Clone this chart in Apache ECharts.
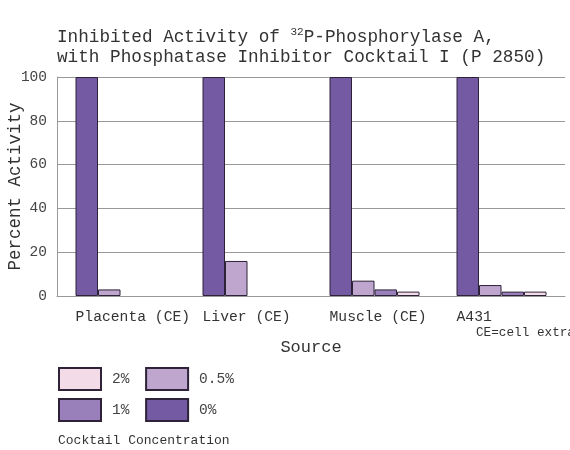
<!DOCTYPE html>
<html>
<head>
<meta charset="utf-8">
<script src="https://cdn.jsdelivr.net/npm/echarts@6/dist/echarts.min.js"></script>
<style>
  html, body { margin: 0; padding: 0; background: #fff; }
  #chart { width: 570px; height: 450px; }
</style>
</head>
<body>
<div id="chart"></div>
<script>
// Données
const sources = ['Placenta (CE)', 'Liver (CE)', 'Muscle (CE)', 'A431'];
const conc0 = [100, 100, 100, 100];
const conc05 = [3, 16, 7, 5];
const conc1 = [0, 0, 3, 2];
const conc2 = [0, 0, 2, 2];
const yTicks = [0, 20, 40, 60, 80, 100];

const mono = '"Liberation Mono", "DejaVu Sans Mono", monospace';
const edge = '#2e2238';

const chart = echarts.init(document.getElementById('chart'), null, { renderer: 'canvas' });

function barSerie(name, data, color) {
    return {
        name: name,
        type: 'bar',
        // les barres nulles ne sont pas dessinées
        data: data.map(v => (v === 0 ? '-' : v)),
        barWidth: 22.5,
        barGap: '0%',
        itemStyle: { color: color, borderColor: edge, borderWidth: 1 },
        emphasis: { disabled: true }
    };
}

const option = {
    animation: false,
    backgroundColor: '#fff',
    textStyle: { fontFamily: mono, color: '#333' },
    title: {
        left: 57,
        top: 27,
        padding: 0,
        text: '{n|Inhibited Activity of }{sup|32}{n|P-Phosphorylase A,}\n{n|with Phosphatase Inhibitor Cocktail I (P 2850)}',
        textStyle: {
            fontWeight: 'normal',
            rich: {
                n: { fontFamily: mono, fontSize: 17.7, fontWeight: 'normal', color: '#333', lineHeight: 20 },
                sup: { fontFamily: mono, fontSize: 11, fontWeight: 'normal', color: '#333', verticalAlign: 'top', lineHeight: 20, padding: [0, 0, 8, 0] }
            }
        }
    },
    grid: { left: 57, right: 5, top: 77, bottom: 154, outerBoundsMode: 'none' },
    legend: {
        data: ['2%', '0.5%', '1%', '0%'],
        icon: 'rect',
        left: 58,
        top: 367,
        padding: 0,
        width: 200,
        itemWidth: 42,
        itemHeight: 22,
        itemGap: 7,
        selectedMode: false,
        // espace insécable pour caler la 2e colonne
        formatter: name => name + '\u00a0',
        textStyle: { fontFamily: mono, fontSize: 14.5, color: '#444', padding: [0, 0, 0, 6] }
    },
    xAxis: {
        type: 'category',
        data: sources,
        name: 'Source',
        nameLocation: 'middle',
        nameGap: 43,
        nameTextStyle: { fontFamily: mono, fontSize: 17, color: '#333' },
        axisLine: { lineStyle: { color: '#999' } },
        axisTick: { inside: true, length: 5, lineStyle: { color: '#999' } },
        axisLabel: {
            margin: 14,
            interval: 0,
            formatter: v => '{a|' + v + '}',
            rich: { a: { width: 90, align: 'left', fontFamily: mono, fontSize: 14.7, color: '#333' } }
        }
    },
    yAxis: {
        type: 'value',
        min: 0,
        max: 100,
        interval: 20,
        name: 'Percent Activity',
        nameLocation: 'middle',
        nameGap: 33,
        nameMoveOverlap: false,
        nameTextStyle: { fontFamily: mono, fontSize: 17.5, color: '#333' },
        axisLine: { show: true, lineStyle: { color: '#999' } },
        axisTick: { show: false },
        axisLabel: {
            margin: 10,
            fontFamily: mono,
            fontSize: 14.5,
            color: '#444',
            formatter: v => (yTicks.indexOf(v) >= 0 ? String(v) : '')
        },
        splitLine: { lineStyle: { color: '#999' } }
    },
    graphic: [
        {
            type: 'text',
            left: 476,
            top: 326,
            style: { text: 'CE=cell extract', font: '12.7px ' + mono, fill: '#333' }
        },
        {
            type: 'text',
            left: 58,
            top: 434,
            style: { text: 'Cocktail Concentration', font: '13px ' + mono, fill: '#333' }
        }
    ],
    series: [
        barSerie('0%', conc0, '#7459a3'),
        barSerie('0.5%', conc05, '#bea6cf'),
        barSerie('1%', conc1, '#9a80bb'),
        barSerie('2%', conc2, '#f3dbe8')
    ]
};

chart.setOption(option);

window.addEventListener('resize', () => {
    chart.resize();
});
</script>
</body>
</html>
